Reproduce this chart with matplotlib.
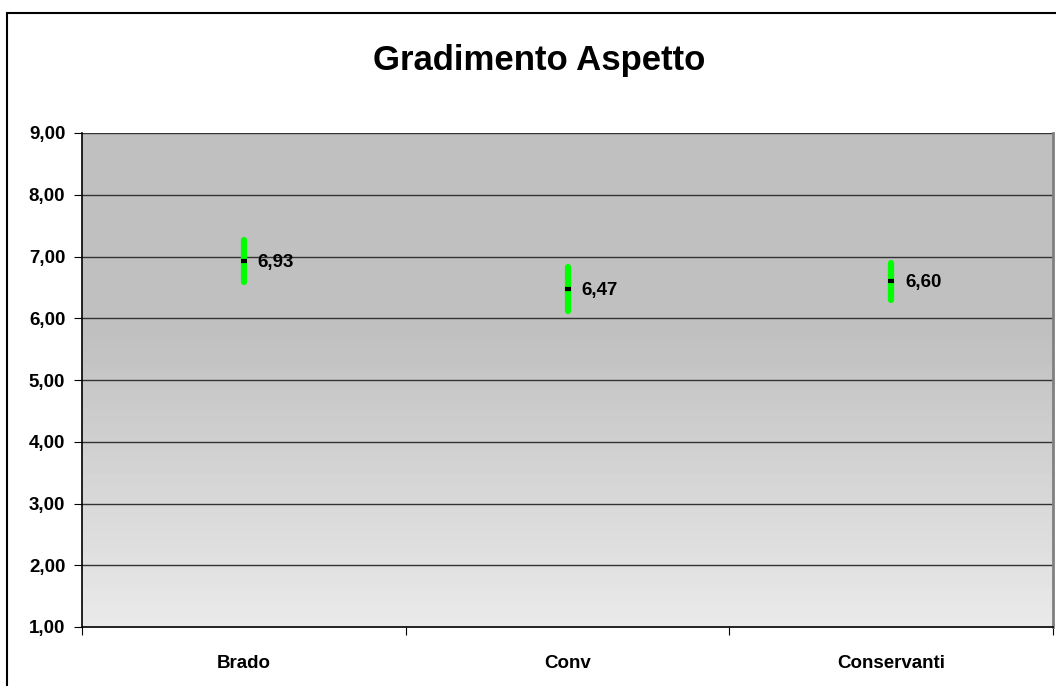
import numpy as np
import matplotlib
matplotlib.use("Agg")
import matplotlib.pyplot as plt
from matplotlib.patches import Rectangle

categories = ["Brado", "Conv", "Conservanti"]
means = [6.93, 6.47, 6.60]
errors = [0.34, 0.36, 0.30]
yticks = [1, 2, 3, 4, 5, 6, 7, 8, 9]

plt.rcParams["font.family"] = ["Liberation Sans", "DejaVu Sans"]
plt.rcParams["font.weight"] = "bold"

fig = plt.figure(figsize=(10.56, 6.86), dpi=100)
fig.patch.set_facecolor("white")
ax = fig.add_axes([82 / 1056, 1 - 627 / 686, (1053 - 82) / 1056, (627 - 133) / 686])

x = np.arange(len(categories))
ax.set_xlim(-0.5, len(categories) - 0.5)
ax.set_ylim(1, 9)

# gradient background: grey on top, lighter to the bottom
grad = np.concatenate([np.full(40, 0.753), np.linspace(0.753, 0.915, 60)])
ax.imshow(grad.reshape(-1, 1), cmap="gray", vmin=0, vmax=1, aspect="auto",
          extent=[-0.5, len(categories) - 0.5, 1, 9], origin="upper", zorder=0)

for yv in yticks[1:]:
    ax.axhline(yv, color="#333333", lw=1, zorder=1)

eb = ax.errorbar(x, means, yerr=errors, fmt="none", ecolor="#00ff00",
                 elinewidth=4.5, capsize=0, zorder=3)
for lc in eb[2]:
    lc.set_capstyle("round")
ax.plot(x, means, ls="none", marker="_", ms=4.5, mew=3, color="black", zorder=4)

for xi, m in zip(x, means):
    ax.annotate(f"{m:.2f}".replace(".", ","), (xi, m), xytext=(10, -1),
                textcoords="offset points", va="center", ha="left",
                fontsize=13.5, fontweight="bold")

ax.set_yticks(yticks)
ax.set_yticklabels([f"{v:.2f}".replace(".", ",") for v in yticks])
ax.set_xticks(np.arange(-0.5, len(categories)), minor=False)
ax.set_xticklabels([])
ax.set_xticks(x, minor=True)
ax.set_xticklabels(categories, minor=True)
ax.tick_params(axis="x", which="major", length=6, direction="out", color="black")
ax.tick_params(axis="x", which="minor", length=0, pad=20, labelsize=13.5)
ax.tick_params(axis="y", length=6, direction="out", labelsize=13.5, pad=6)

for s in ["left", "bottom"]:
    ax.spines[s].set_color("black")
    ax.spines[s].set_linewidth(1.2)
ax.spines["top"].set_visible(False)
ax.spines["right"].set_color("#808080")
ax.spines["right"].set_linewidth(2)

fig.text(0.511, 0.912, "Gradimento Aspetto", ha="center", va="center",
         fontsize=25, fontweight="bold")

# chart border
fig.patches.append(Rectangle((7 / 1056, -0.1), 1.2, 1 - 13 / 686 + 0.1,
                             transform=fig.transFigure, fill=False,
                             edgecolor="black", lw=1.5))

fig.savefig("out.png", dpi=100)
